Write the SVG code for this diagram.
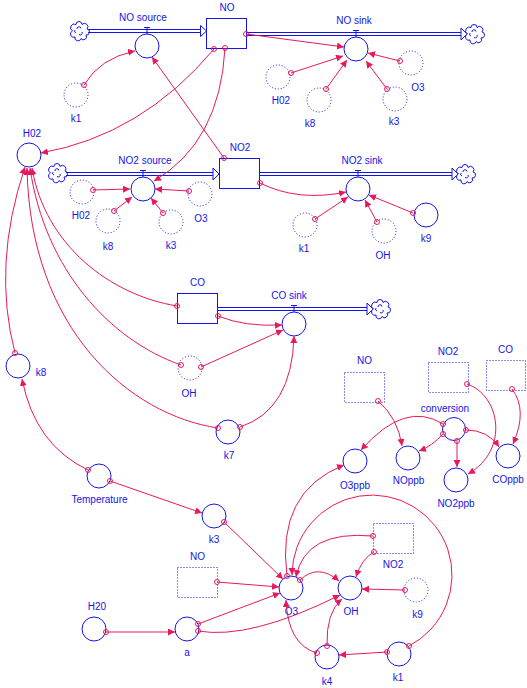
<svg xmlns="http://www.w3.org/2000/svg" width="527" height="688" viewBox="0 0 527 688">
<defs>
<style>
.t{font-family:"Liberation Sans",Arial,sans-serif;font-size:10px;fill:#1414e6;text-anchor:middle}
.n{fill:#fff;stroke:#1414e6;stroke-width:1}
.g{fill:none;stroke:#1414e6;stroke-width:1;stroke-dasharray:1 2}
.p{stroke:#1414e6;stroke-width:1;fill:none}
.ar{fill:#fff;stroke:#1414e6;stroke-width:1}
.c{fill:none;stroke:#e8185c;stroke-width:1;marker-end:url(#ah)}
.o{fill:none;stroke:#e8185c;stroke-width:1}
</style>
<marker id="ah" markerUnits="userSpaceOnUse" markerWidth="8" markerHeight="8" refX="7" refY="3.5" orient="auto"><path d="M0,0 L7,3.5 L0,7 Z" fill="#e8185c"/></marker>
<g id="cloud"><path class="n" d="M-4,-6.5 A3,3 0 0 1 2,-6.5 A3,3 0 0 1 7,-2 A3,3 0 0 1 6,4 A3,3 0 0 1 1,7.5 A3,3 0 0 1 -5,6 A3,3 0 0 1 -7.5,0 A3,3 0 0 1 -4,-6.5 Z"/><path class="p" d="M-3,-2 A2,2 0 0 1 1,-2.5 M2,1 A2,2 0 0 1 -1,3.5 M-4,2 A2,2 0 0 1 -5,-1"/></g>
</defs>
<rect width="527" height="688" fill="#fff"/>

<!-- top row -->
<g id="cloud_no_src"><use href="#cloud" x="80" y="31"/></g>
<g id="no_source">
<line class="p" x1="88" y1="29.5" x2="201" y2="29.5"/><line class="p" x1="88" y1="32.5" x2="201" y2="32.5"/>
<path class="ar" d="M200.5,25.5 L206.5,31 L200.5,36.5 Z"/>
<path class="p" d="M144,27.5 H150 M147,27.5 V34"/>
<circle class="n" cx="147" cy="46" r="12"/>
<text class="t" x="143" y="21">NO source</text>
</g>
<g id="NO"><rect class="n" x="206.5" y="18.5" width="40" height="30"/><text class="t" x="227" y="11">NO</text></g>
<g id="no_sink">
<line class="p" x1="247" y1="32.5" x2="461" y2="32.5"/><line class="p" x1="247" y1="35.5" x2="461" y2="35.5"/>
<path class="ar" d="M461,28 L467,34 L461,40 Z"/>
<path class="p" d="M353,30.5 H359 M356,30.5 V37"/>
<circle class="n" cx="356" cy="49" r="12"/>
<text class="t" x="354" y="24">NO sink</text>
</g>
<g id="cloud_no_sink"><use href="#cloud" x="475" y="34"/></g>
<g id="k1_ghost_a"><circle class="g" cx="76" cy="95" r="12"/><text class="t" x="76" y="122">k1</text></g>
<g id="ho2_ghost_a"><circle class="g" cx="278" cy="77" r="12"/><text class="t" x="281" y="104">H02</text></g>
<g id="k8_ghost_a"><circle class="g" cx="319" cy="100" r="12"/><text class="t" x="310" y="127">k8</text></g>
<g id="k3_ghost_a"><circle class="g" cx="395" cy="99" r="12"/><text class="t" x="394" y="125">k3</text></g>
<g id="o3_ghost_a"><circle class="g" cx="411" cy="63" r="12"/><text class="t" x="418" y="91">O3</text></g>

<!-- second row -->
<g id="HO2"><circle class="n" cx="29" cy="155" r="12"/><text class="t" x="32" y="137">H02</text></g>
<g id="cloud_no2_src"><use href="#cloud" x="58" y="173"/></g>
<g id="no2_source">
<line class="p" x1="66" y1="172.5" x2="214" y2="172.5"/><line class="p" x1="66" y1="175.5" x2="214" y2="175.5"/>
<path class="ar" d="M213,168 L219,174 L213,180 Z"/>
<path class="p" d="M140,170.5 H146 M143,170.5 V177"/>
<circle class="n" cx="143" cy="189" r="12"/>
<text class="t" x="145" y="164">NO2 source</text>
</g>
<g id="NO2"><rect class="n" x="219.5" y="158.5" width="40" height="30"/><text class="t" x="240" y="151">NO2</text></g>
<g id="no2_sink">
<line class="p" x1="260" y1="172.5" x2="453" y2="172.5"/><line class="p" x1="260" y1="175.5" x2="453" y2="175.5"/>
<path class="ar" d="M452,168 L458,174 L452,180 Z"/>
<path class="p" d="M355,170.5 H361 M358,170.5 V177"/>
<circle class="n" cx="358" cy="189" r="12"/>
<text class="t" x="362" y="164">NO2 sink</text>
</g>
<g id="cloud_no2_sink"><use href="#cloud" x="466" y="174"/></g>
<g id="ho2_ghost_b"><circle class="g" cx="82" cy="192" r="12"/><text class="t" x="81" y="219">H02</text></g>
<g id="k8_ghost_b"><circle class="g" cx="108" cy="221" r="12"/><text class="t" x="108" y="250">k8</text></g>
<g id="k3_ghost_b"><circle class="g" cx="171" cy="222" r="12"/><text class="t" x="171" y="249">k3</text></g>
<g id="o3_ghost_b"><circle class="g" cx="200" cy="194" r="12"/><text class="t" x="201" y="222">O3</text></g>
<g id="k1_ghost_b"><circle class="g" cx="305" cy="225" r="12"/><text class="t" x="304" y="252">k1</text></g>
<g id="oh_ghost_b"><circle class="g" cx="384" cy="231" r="12"/><text class="t" x="383" y="259">OH</text></g>
<g id="k9"><circle class="n" cx="426" cy="215" r="12"/><text class="t" x="426" y="242">k9</text></g>

<!-- third row -->
<g id="CO"><rect class="n" x="177.5" y="293.5" width="40" height="30"/><text class="t" x="197.5" y="286">CO</text></g>
<g id="co_sink">
<line class="p" x1="218" y1="307.5" x2="368" y2="307.5"/><line class="p" x1="218" y1="310.5" x2="368" y2="310.5"/>
<path class="ar" d="M367,303 L373,309 L367,315 Z"/>
<path class="p" d="M291,305.5 H297 M294,305.5 V312"/>
<circle class="n" cx="294" cy="324" r="12"/>
<text class="t" x="289" y="299">CO sink</text>
</g>
<g id="cloud_co_sink"><use href="#cloud" x="381" y="309"/></g>
<g id="oh_ghost_c"><circle class="g" cx="190" cy="368" r="12"/><text class="t" x="189" y="397">OH</text></g>
<g id="k8"><circle class="n" cx="18" cy="366" r="12"/><text class="t" x="41" y="376">k8</text></g>
<g id="k7"><circle class="n" cx="228" cy="432" r="12"/><text class="t" x="229" y="459">k7</text></g>

<!-- conversion area -->
<g id="no_ghost_e"><rect class="g" x="344.5" y="372.5" width="40" height="30"/><text class="t" x="364.5" y="364">NO</text></g>
<g id="no2_ghost_e"><rect class="g" x="428.5" y="362.5" width="40" height="30"/><text class="t" x="448" y="355">NO2</text></g>
<g id="co_ghost_e"><rect class="g" x="486.5" y="360.5" width="39" height="30"/><text class="t" x="505.5" y="353">CO</text></g>
<g id="conversion"><circle class="n" cx="454" cy="429" r="11.5"/><text class="t" x="445" y="412">conversion</text></g>
<g id="O3ppb"><circle class="n" cx="355" cy="461" r="12"/><text class="t" x="355" y="489">O3ppb</text></g>
<g id="NOppb"><circle class="n" cx="408" cy="458" r="12"/><text class="t" x="408.5" y="484">NOppb</text></g>
<g id="NO2ppb"><circle class="n" cx="456" cy="480" r="12"/><text class="t" x="456" y="507">NO2ppb</text></g>
<g id="COppb"><circle class="n" cx="508" cy="456" r="12"/><text class="t" x="508" y="483">COppb</text></g>

<!-- bottom -->
<g id="Temperature"><circle class="n" cx="99" cy="476" r="12"/><text class="t" x="99.5" y="503">Temperature</text></g>
<g id="k3"><circle class="n" cx="214" cy="516" r="12"/><text class="t" x="214" y="543">k3</text></g>
<g id="no_ghost_d"><rect class="g" x="177.5" y="567.5" width="40" height="30"/><text class="t" x="197.5" y="560">NO</text></g>
<g id="H2O"><circle class="n" cx="94" cy="629" r="12"/><text class="t" x="97" y="610">H20</text></g>
<g id="a"><circle class="n" cx="187" cy="629" r="12"/><text class="t" x="187" y="656">a</text></g>
<g id="O3"><circle class="n" cx="291" cy="588" r="12"/><text class="t" x="291.5" y="615">O3</text></g>
<g id="OH"><circle class="n" cx="350" cy="588" r="12"/><text class="t" x="351" y="615">OH</text></g>
<g id="no2_ghost_d"><rect class="g" x="373.5" y="523.5" width="40" height="30"/><text class="t" x="393" y="568">NO2</text></g>
<g id="k9_ghost_d"><circle class="g" cx="416" cy="590" r="12"/><text class="t" x="417.5" y="618">k9</text></g>
<g id="k4"><circle class="n" cx="327" cy="657" r="12"/><text class="t" x="327" y="685">k4</text></g>
<g id="k1"><circle class="n" cx="399" cy="654" r="12"/><text class="t" x="398" y="681">k1</text></g>

<g id="connectors">
<path class="c" d="M84,85 Q100,58 135,51"/>
<path class="c" d="M214,49 Q142,135 41,153"/>
<path class="c" d="M225,48 Q220,142 154,181"/>
<path class="c" d="M224,158 L152,57"/>
<path class="c" d="M246,34 L344,47"/>
<path class="c" d="M291,73 L343,56"/>
<path class="c" d="M326,89 L347,60"/>
<path class="c" d="M387,89 L366,61"/>
<path class="c" d="M400,61 L368,53"/>
<path class="c" d="M93,190 L130,189"/>
<path class="c" d="M114,211 L132,197"/>
<path class="c" d="M163,213 L151,198"/>
<path class="c" d="M189,191 L155,189"/>
<path class="c" d="M260,183 Q298,202 346,192"/>
<path class="c" d="M315,219 L348,197"/>
<path class="c" d="M377,222 L365,200"/>
<path class="c" d="M413,213 L369,195"/>
<path class="c" d="M218,316 Q245,327 282,325"/>
<path class="c" d="M201,367 L283,330"/>
<path class="c" d="M240,427 Q292,410 294,336"/>
<path class="c" d="M177,306 C110,295 45,245 32,168"/>
<path class="c" d="M181,365 C110,340 45,270 30,168"/>
<path class="c" d="M218,428 C130,415 30,330 27,168"/>
<path class="c" d="M15,353 Q-8,265 25,167"/>
<path class="c" d="M88,470 Q35,445 22,379"/>
<path class="c" d="M110,481 L202,513"/>
<path class="c" d="M224,522 L283,579"/>
<path class="c" d="M217,582 L279,587"/>
<path class="c" d="M106,632 L175,632"/>
<path class="c" d="M198,624 L280,593"/>
<path class="c" d="M198,631 Q250,640 340,595"/>
<path class="c" d="M287,576 Q276,492 344,465"/>
<path class="c" d="M300,580 Q318,563 339,581"/>
<path class="c" d="M373,536 Q305,530 296,577"/>
<path class="c" d="M374,552 Q362,558 356,577"/>
<path class="c" d="M409,646 A80,80 0 1 0 292,575"/>
<path class="c" d="M387,652 L339,655"/>
<path class="c" d="M317,653 Q288,645 286,600"/>
<path class="c" d="M327,646 Q326,612 342,599"/>
<path class="c" d="M405,590 L362,589"/>
<path class="c" d="M378,401 Q398,418 402,446"/>
<path class="c" d="M467,384 C500,395 510,450 468,474"/>
<path class="c" d="M512,389 Q528,410 513,444"/>
<path class="c" d="M443,424 Q405,400 361,450"/>
<path class="c" d="M443,434 Q432,446 419,451"/>
<path class="c" d="M457,441 L457,467"/>
<path class="c" d="M466,430 Q488,430 499,447"/>
<g class="o">
<circle cx="84" cy="85" r="2.5"/><circle cx="214" cy="49" r="2.5"/><circle cx="225" cy="48" r="2.5"/><circle cx="224" cy="158" r="2.5"/>
<circle cx="246" cy="34" r="2.5"/><circle cx="291" cy="73" r="2.5"/><circle cx="326" cy="89" r="2.5"/><circle cx="387" cy="89" r="2.5"/>
<circle cx="400" cy="61" r="2.5"/><circle cx="93" cy="190" r="2.5"/><circle cx="114" cy="211" r="2.5"/><circle cx="163" cy="213" r="2.5"/>
<circle cx="189" cy="191" r="2.5"/><circle cx="260" cy="183" r="2.5"/><circle cx="315" cy="219" r="2.5"/><circle cx="377" cy="222" r="2.5"/>
<circle cx="413" cy="213" r="2.5"/><circle cx="218" cy="316" r="2.5"/><circle cx="177" cy="306" r="2.5"/><circle cx="201" cy="367" r="2.5"/>
<circle cx="181" cy="365" r="2.5"/><circle cx="218" cy="428" r="2.5"/><circle cx="240" cy="427" r="2.5"/><circle cx="15" cy="353" r="2.5"/>
<circle cx="88" cy="470" r="2.5"/><circle cx="110" cy="481" r="2.5"/><circle cx="224" cy="522" r="2.5"/><circle cx="217" cy="582" r="2.5"/>
<circle cx="106" cy="632" r="2.5"/><circle cx="198" cy="624" r="2.5"/><circle cx="198" cy="631" r="2.5"/><circle cx="287" cy="576" r="2.5"/>
<circle cx="300" cy="580" r="2.5"/><circle cx="373" cy="536" r="2.5"/><circle cx="374" cy="552" r="2.5"/><circle cx="409" cy="646" r="2.5"/>
<circle cx="387" cy="652" r="2.5"/><circle cx="317" cy="653" r="2.5"/><circle cx="327" cy="646" r="2.5"/><circle cx="405" cy="590" r="2.5"/>
<circle cx="378" cy="401" r="2.5"/><circle cx="467" cy="384" r="2.5"/><circle cx="512" cy="389" r="2.5"/><circle cx="443" cy="424" r="2.5"/>
<circle cx="443" cy="434" r="2.5"/><circle cx="457" cy="441" r="2.5"/><circle cx="466" cy="430" r="2.5"/>
</g>
</g>
</svg>
